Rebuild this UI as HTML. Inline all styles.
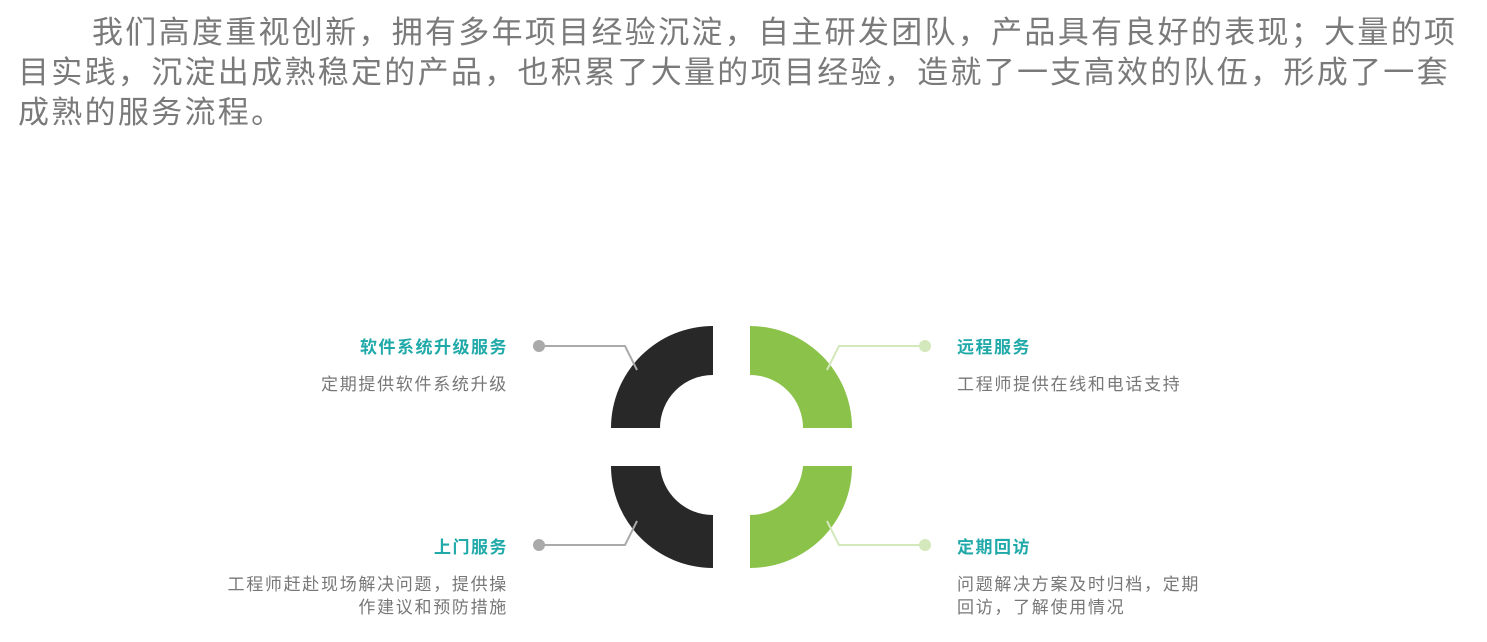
<!DOCTYPE html>
<html><head><meta charset="utf-8"><style>
body{margin:0;width:1487px;height:642px;background:#fff;position:relative;overflow:hidden;font-family:"Liberation Sans","Noto Sans CJK SC",sans-serif;}
.p{position:absolute;left:18px;font-size:31px;letter-spacing:2.3px;color:#7a7a7a;white-space:nowrap;line-height:40px;}
.t{position:absolute;font-size:17px;font-weight:bold;color:#20a9a9;letter-spacing:1.5px;white-space:nowrap;line-height:22px;}
.d{position:absolute;font-size:17px;color:#777;letter-spacing:1.7px;line-height:23px;white-space:nowrap;}
.r{text-align:right;}
</style></head><body>
<div class="p" style="top:13px;left:92px">我们高度重视创新，拥有多年项目经验沉淀，自主研发团队，产品具有良好的表现；大量的项</div>
<div class="p" style="top:53px">目实践，沉淀出成熟稳定的产品，也积累了大量的项目经验，造就了一支高效的队伍，形成了一套</div>
<div class="p" style="top:93px">成熟的服务流程。</div>
<svg width="1487" height="642" style="position:absolute;left:0;top:0">
<path d="M713 326 A102 102 0 0 0 611 428 L660 428 A53 53 0 0 1 713 375 Z" fill="#282828"/>
<path d="M713 568 A102 102 0 0 1 611 466 L660 466 A53 53 0 0 0 713 515 Z" fill="#282828"/>
<path d="M750 326 A102 102 0 0 1 852 428 L803 428 A53 53 0 0 0 750 375 Z" fill="#8bc249"/>
<path d="M750 568 A102 102 0 0 0 852 466 L803 466 A53 53 0 0 1 750 515 Z" fill="#8bc249"/>
<polyline points="539,346 625,346 637,370" fill="none" stroke="#aaa" stroke-width="2"/>
<polyline points="539,545 625,545 637,521" fill="none" stroke="#aaa" stroke-width="2"/>
<polyline points="925,346 839,346 827,370" fill="none" stroke="#d3e8bb" stroke-width="2"/>
<polyline points="925,545 839,545 827,521" fill="none" stroke="#d3e8bb" stroke-width="2"/>
<circle cx="539" cy="346" r="6" fill="#aaa"/>
<circle cx="539" cy="545" r="6" fill="#aaa"/>
<circle cx="925" cy="346" r="6" fill="#d3e8bb"/>
<circle cx="925" cy="545" r="6" fill="#d3e8bb"/>
</svg>
<div class="t r" style="right:979px;top:337px">软件系统升级服务</div>
<div class="d r" style="right:979px;top:373px">定期提供软件系统升级</div>
<div class="t r" style="right:979px;top:537px">上门服务</div>
<div class="d r" style="right:979px;top:573px">工程师赶赴现场解决问题，提供操<br>作建议和预防措施</div>
<div class="t" style="left:957px;top:337px">远程服务</div>
<div class="d" style="left:957px;top:373px">工程师提供在线和电话支持</div>
<div class="t" style="left:957px;top:537px">定期回访</div>
<div class="d" style="left:957px;top:573px">问题解决方案及时归档，定期<br>回访，了解使用情况</div>
</body></html>
